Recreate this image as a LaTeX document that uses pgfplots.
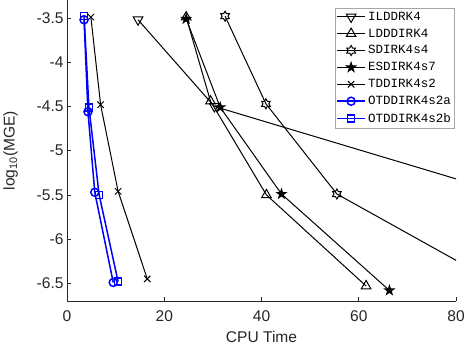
\documentclass[border=0pt]{standalone}
\usepackage{pgfplots}
\pgfplotsset{compat=1.18}
\usepackage{fontspec}
\setmainfont{Liberation Sans}
\setmonofont{Liberation Mono}

% MATLAB style markers
\pgfdeclareplotmark{hexagram}{%
  \pgfmathsetlengthmacro\ri{0.577*\pgfplotmarksize}%
  \pgfpathmoveto{\pgfpointpolar{90}{\pgfplotmarksize}}%
  \foreach \k in {1,...,11}{%
    \pgfmathsetmacro\ang{90+30*\k}%
    \ifodd\k \pgfpathlineto{\pgfpointpolar{\ang}{\ri}}%
    \else \pgfpathlineto{\pgfpointpolar{\ang}{\pgfplotmarksize}}\fi
  }%
  \pgfpathclose
  \pgfusepathqstroke
}
\pgfdeclareplotmark{pentagram}{%
  \pgfmathsetlengthmacro\ri{0.382*\pgfplotmarksize}%
  \pgfpathmoveto{\pgfpointpolar{90}{\pgfplotmarksize}}%
  \foreach \k in {1,...,9}{%
    \pgfmathsetmacro\ang{90+36*\k}%
    \ifodd\k \pgfpathlineto{\pgfpointpolar{\ang}{\ri}}%
    \else \pgfpathlineto{\pgfpointpolar{\ang}{\pgfplotmarksize}}\fi
  }%
  \pgfpathclose
  \pgfusepathqfillstroke
}

\definecolor{axgray}{rgb}{0.15,0.15,0.15}

\begin{document}
\begin{tikzpicture}
\begin{axis}[
    scale only axis,
    width=388pt, height=300pt,
    xmin=0, xmax=80,
    ymin=-6.7, ymax=-3.3,
    xtick={0,20,40,60,80},
    ytick={-6.5,-6,-5.5,-5,-4.5,-4,-3.5},
    axis x line*=bottom,
    axis y line*=left,
    axis line style={axgray, line width=0.6pt},
    tick style={axgray, line width=0.6pt},
    tick align=inside,
    major tick length=4pt,
    ticklabel style={font=\fontsize{15.5}{18}\selectfont, text=axgray},
    label style={font=\fontsize{15.5}{18}\selectfont, text=axgray},
    xticklabel style={yshift=-6pt},
    ylabel shift=12pt,
    xlabel shift=3pt,
    /pgf/number format/assume math mode=true,
    xlabel={CPU Time},
    ylabel={log\textsubscript{10}(MGE)},
    legend style={at={(0.995,0.975)}, anchor=north east,
        draw=gray!70, fill=white,
        font=\fontsize{12.5}{14}\selectfont\ttfamily,
        row sep=3pt, inner xsep=1pt, inner ysep=2pt},
    legend cell align=left,
    legend image code/.code={%
        \draw[mark repeat=2,mark phase=2] plot coordinates {(0cm,0cm) (0.5cm,0cm) (1cm,0cm)};},
    every axis plot/.append style={line width=1pt},
]
% ILDDRK4
\addplot[black, mark=triangle, mark size=5.5pt, mark options={rotate=180, fill=white}]
coordinates {(14.6,-3.52) (30.3,-4.50) (91,-5.50) (152,-6.50)};
\addlegendentry{ILDDRK4}
% LDDDIRK4
\addplot[black, mark=triangle, mark size=5.5pt, mark options={fill=none}]
coordinates {(24.5,-3.49) (29.5,-4.44) (41.0,-5.50) (61.5,-6.53)};
\addlegendentry{LDDDIRK4}
% SDIRK4s4
\addplot[black, mark=hexagram, mark size=5pt]
coordinates {(32.5,-3.48) (40.9,-4.47) (55.5,-5.49) (88.5,-6.50)};
\addlegendentry{SDIRK4s4}
% ESDIRK4s7
\addplot[black, mark=pentagram, mark size=4.8pt, mark options={fill=black}]
coordinates {(24.5,-3.51) (31.5,-4.51) (44.1,-5.49) (66.3,-6.58)};
\addlegendentry{ESDIRK4s7}
% TDDIRK4s2
\addplot[black, mark=x, mark size=4.5pt]
coordinates {(4.9,-3.49) (6.9,-4.48) (10.5,-5.46) (16.5,-6.45)};
\addlegendentry{TDDIRK4s2}
% OTDDIRK4s2a
\addplot[blue, line width=1.5pt, mark=o, mark size=4pt]
coordinates {(3.5,-3.52) (4.3,-4.56) (5.7,-5.47) (9.5,-6.49)};
\addlegendentry{OTDDIRK4s2a}
% OTDDIRK4s2b
\addplot[blue, line width=1.5pt, mark=square, mark size=3.5pt]
coordinates {(3.5,-3.48) (4.5,-4.51) (6.6,-5.50) (10.5,-6.48)};
\addlegendentry{OTDDIRK4s2b}
\end{axis}
\end{tikzpicture}
\end{document}
